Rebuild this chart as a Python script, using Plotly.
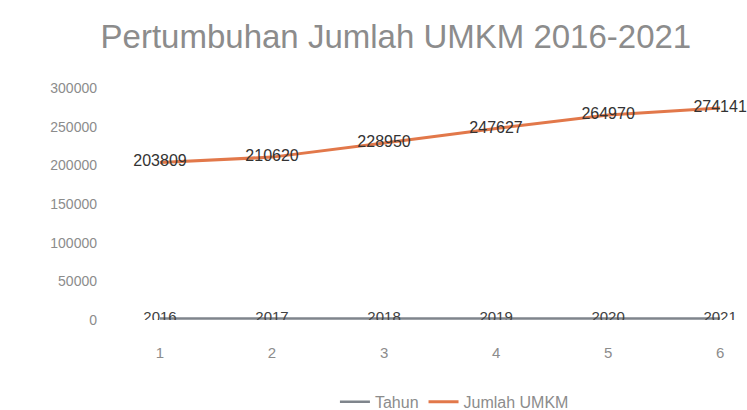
import plotly.graph_objects as go

categories = [1, 2, 3, 4, 5, 6]
tahun = [2016, 2017, 2018, 2019, 2020, 2021]
jumlah_umkm = [203809, 210620, 228950, 247627, 264970, 274141]
y_ticks = [0, 50000, 100000, 150000, 200000, 250000, 300000]

fig = go.Figure()
fig.add_trace(go.Scatter(
    x=categories, y=tahun, name="Tahun", mode="lines+text",
    text=[str(v) for v in tahun], textposition="middle center",
    textfont=dict(size=15, color="#404040", family="Liberation Sans"),
    line=dict(color="#7f858c", width=2.5),
))
fig.add_trace(go.Scatter(
    x=categories, y=jumlah_umkm, name="Jumlah UMKM", mode="lines+text",
    text=[str(v) for v in jumlah_umkm], textposition="middle center",
    textfont=dict(size=16, color="#333333", family="Liberation Sans"),
    line=dict(color="#e2784a", width=3),
))

fig.update_layout(
    width=747, height=410,
    margin=dict(l=104, r=0, t=88, b=90, autoexpand=False),
    paper_bgcolor="white", plot_bgcolor="white",
    title=dict(text="Pertumbuhan Jumlah UMKM 2016-2021", x=0.53, xanchor="center",
               y=0.91, yanchor="middle",
               font=dict(size=33, color="#8c8c8c", family="Liberation Sans")),
    showlegend=True,
    legend=dict(orientation="h", x=0.545, xanchor="center",
                yref="container", y=0.02, yanchor="middle",
                font=dict(size=16, color="#8c8c8c", family="Liberation Sans")),
    xaxis=dict(range=[0.5, 6.24], tickmode="array", tickvals=categories,
               ticktext=[str(c) for c in categories], showgrid=False, zeroline=False,
               showline=False, ticks="", ticklabelstandoff=22, automargin=False,
               tickfont=dict(size=15, color="#8c8c8c", family="Liberation Sans")),
    yaxis=dict(range=[0, 300000], tickmode="array", tickvals=y_ticks,
               ticktext=[str(v) for v in y_ticks], showgrid=False, zeroline=False,
               showline=False, ticks="", ticklabelstandoff=6, automargin=False,
               tickfont=dict(size=14, color="#8c8c8c", family="Liberation Sans")),
)

fig.write_html("out.html")
